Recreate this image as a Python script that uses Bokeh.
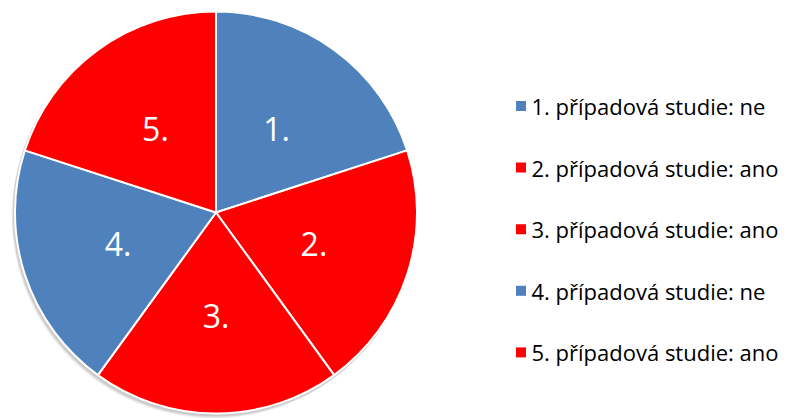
import math
from bokeh.plotting import figure
from bokeh.models import ColumnDataSource
from bokeh.core.properties import value
from bokeh.embed import file_html
from bokeh.resources import INLINE

categories = ["1.", "2.", "3.", "4.", "5."]
legend_labels = ["1. případová studie: ne", "2. případová studie: ano",
                 "3. případová studie: ano", "4. případová studie: ne",
                 "5. případová studie: ano"]
values = [1, 1, 1, 1, 1]
colors = ["#4F81BD", "#FF0000", "#FF0000", "#4F81BD", "#FF0000"]

W, H = 800, 418
p = figure(width=W, height=H, output_backend="svg", toolbar_location=None,
           x_range=(0, W), y_range=(0, H), min_border=0)
p.axis.visible = False
p.grid.visible = False
p.outline_line_color = None
p.background_fill_color = "white"
p.border_fill_color = "white"

cx, cy, R = 215.5, H - 212, 201
total = sum(values)
starts, ends, lx, ly = [], [], [], []
acc = 0
for v in values:
    a0 = math.pi / 2 - 2 * math.pi * (acc + v) / total
    a1 = math.pi / 2 - 2 * math.pi * acc / total
    starts.append(a0)
    ends.append(a1)
    mid = (a0 + a1) / 2
    lx.append(cx + 103 * math.cos(mid))
    ly.append(cy + 103 * math.sin(mid))
    acc += v

# subtle shadow
for off, al in [(4, 0.05), (3, 0.07), (2, 0.09)]:
    p.circle(x=[cx - off * 0.6], y=[cy - off], radius=R + 1, fill_color="black",
             fill_alpha=al, line_color=None)

src = ColumnDataSource(dict(start=starts, end=ends, color=colors, lx=lx, ly=ly,
                            cat=categories))
p.wedge(x=cx, y=cy, radius=R, start_angle="start", end_angle="end",
        fill_color="color", line_color="white", line_width=2, source=src)
p.text(x="lx", y="ly", text="cat", source=src, text_color="white",
       text_font=value("Open Sans"), text_font_size="32px", text_align="center",
       text_baseline="middle")

rows_y = [H - (105.5 + i * 61.6) for i in range(len(legend_labels))]
lsrc = ColumnDataSource(dict(x=[520.5] * 5, y=rows_y, t=legend_labels, color=colors,
                             tx=[531] * 5))
p.scatter(x="x", y="y", source=lsrc, marker="square", size=10,
          fill_color="color", line_color=None)
p.text(x="tx", y="y", text="t", source=lsrc, text_color="black",
       text_font=value("Open Sans"), text_font_size="22px", text_align="left",
       text_baseline="middle")

open("out.html", "w").write(file_html(p, INLINE))
